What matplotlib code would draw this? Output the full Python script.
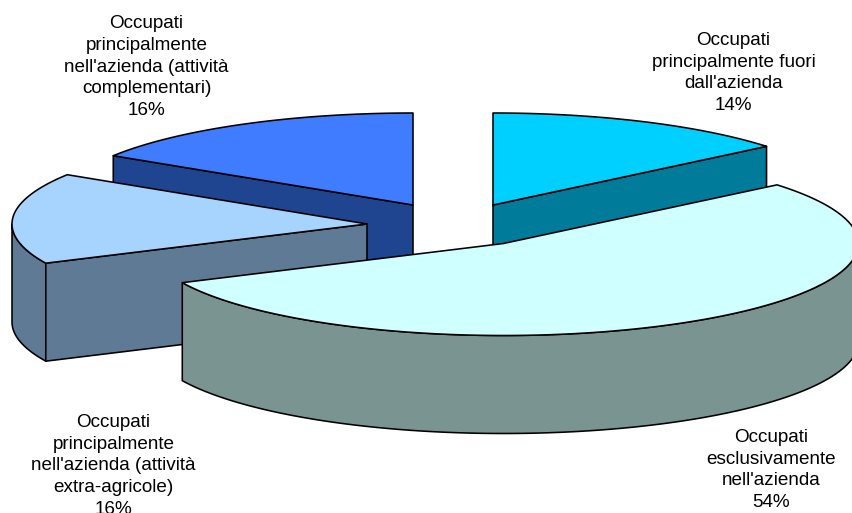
import numpy as np
import matplotlib
matplotlib.use("Agg")
import matplotlib.pyplot as plt
from matplotlib.patches import Polygon

plt.rcParams['font.family'] = ['Liberation Sans', 'DejaVu Sans']

# Data, clockwise from 12 o'clock
labels = ["Occupati\nprincipalmente fuori\ndall'azienda",
          "Occupati\nesclusivamente\nnell'azienda",
          "Occupati\nprincipalmente\nnell'azienda (attività\nextra-agricole)",
          "Occupati\nprincipalmente\nnell'azienda (attività\ncomplementari)"]
values = [14, 54, 16, 16]

# Styles and layout
top_colors = ["#00D0FF", "#D0FFFF", "#A6D4FF", "#3F7CFF"]
side_colors = ["#007B99", "#7A9492", "#5F7A94", "#1F4490"]
apex_x = [493, 503.5, 367, 413]
apex_y = [205, 243.5, 224, 205]
label_x = [733.5, 771, 113.5, 146.5]
label_y = [73, 470, 466, 67]
cut_edge = [1, None, 0, 0]   # which radial edge of each slice shows its wall
RX, RY, DEPTH = 355, 92, 98
draw_order = [3, 0, 2, 1]

fig = plt.figure(figsize=(8.53, 5.13), dpi=100)
ax = fig.add_axes([0, 0, 1, 1])
ax.set_xlim(0, 853)
ax.set_ylim(513, 0)
ax.axis('off')

total = sum(values)
bounds = 90 - np.concatenate([[0], np.cumsum(values)]) / total * 360


def rim(cx, cy, t0, t1, dy=0.0):
    t = np.radians(np.linspace(t0, t1, 160))
    return np.column_stack([cx + RX * np.cos(t), cy - RY * np.sin(t) + dy])


for i in draw_order:
    cx, cy = apex_x[i], apex_y[i]
    t0, t1 = bounds[i], bounds[i + 1]
    kw = dict(closed=True, edgecolor='black', linewidth=1.15, joinstyle='round')

    # Outer wall: only the part facing the viewer
    lo, hi = max(t1, -180), min(t0, 0)
    if lo < hi:
        upper = rim(cx, cy, hi, lo)
        lower = rim(cx, cy, lo, hi, DEPTH)
        ax.add_patch(Polygon(np.vstack([upper, lower]), facecolor=side_colors[i], **kw))

    # Radial cut wall facing the viewer
    if cut_edge[i] is not None:
        angle = (t0, t1)[cut_edge[i]]
        e = rim(cx, cy, angle, angle)[0]
        ax.add_patch(Polygon([(cx, cy), e, (e[0], e[1] + DEPTH), (cx, cy + DEPTH)],
                             facecolor=side_colors[i], **kw))

    # Top face
    ax.add_patch(Polygon(np.vstack([[cx, cy], rim(cx, cy, t0, t1)]), facecolor=top_colors[i], **kw))

    ax.text(label_x[i], label_y[i], f"{labels[i]}\n{values[i]}%", ha='center', va='center',
            fontsize=13.6, linespacing=1.365, color='black')

fig.savefig("out.png", dpi=100)
